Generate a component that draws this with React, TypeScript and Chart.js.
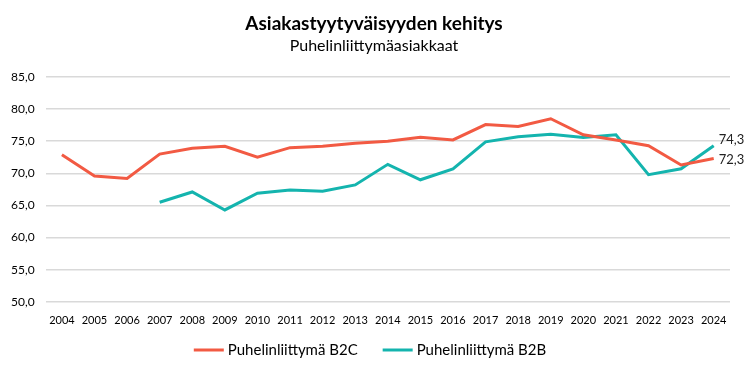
import React, { useEffect, useRef } from "react";
import { Chart, registerables } from "chart.js";

Chart.register(...registerables);

const years = ["2004","2005","2006","2007","2008","2009","2010","2011","2012","2013","2014","2015","2016","2017","2018","2019","2020","2021","2022","2023","2024"];
const b2c = [72.9, 69.6, 69.2, 73.0, 73.9, 74.2, 72.5, 74.0, 74.2, 74.7, 75.0, 75.6, 75.2, 77.6, 77.3, 78.5, 76.0, 75.2, 74.3, 71.3, 72.3];
const b2b = [null, null, null, 65.5, 67.1, 64.3, 66.9, 67.4, 67.2, 68.2, 71.4, 69.0, 70.7, 74.9, 75.7, 76.1, 75.6, 76.0, 69.8, 70.7, 74.3];
const titleText = "Asiakastyytyväisyyden kehitys";
const subtitleText = "Puhelinliittymäasiakkaat";
const labelB2C = "Puhelinliittymä B2C";
const labelB2B = "Puhelinliittymä B2B";

const RED = "#F25A43";
const TEAL = "#14B4AE";
const FONT = "Lato, 'Open Sans', sans-serif";

const fmt = (v: number) => v.toFixed(1).replace(".", ",");

const endLabels = {
  id: "endLabels",
  afterDatasetsDraw(chart: any) {
    const ctx = chart.ctx;
    ctx.save();
    ctx.font = `13px ${FONT}`;
    ctx.fillStyle = "#222";
    ctx.textBaseline = "middle";
    ctx.textAlign = "left";
    chart.data.datasets.forEach((ds: any, i: number) => {
      const meta = chart.getDatasetMeta(i);
      const last = meta.data[meta.data.length - 1];
      const v = ds.data[ds.data.length - 1];
      if (last && v != null) {
        const dy = i === 0 ? 1 : -6;
        ctx.fillText(fmt(v), last.x + 5, last.y + dy);
      }
    });
    ctx.restore();
  },
};

const titles = {
  id: "titles",
  afterDraw(chart: any) {
    const ctx = chart.ctx;
    ctx.save();
    ctx.fillStyle = "#000";
    ctx.textAlign = "center";
    ctx.textBaseline = "middle";
    const cx = chart.width / 2 + 1;
    ctx.font = `bold 19px ${FONT}`;
    ctx.fillText(titleText, cx, 24);
    ctx.font = `16px ${FONT}`;
    ctx.fillText(subtitleText, cx, 46);
    ctx.restore();
  },
};

const bottomLegend = {
  id: "bottomLegend",
  afterDraw(chart: any) {
    const ctx = chart.ctx;
    ctx.save();
    ctx.font = `15px ${FONT}`;
    ctx.textBaseline = "middle";
    ctx.textAlign = "left";
    const lineW = 30, gapT = 4, gapItem = 25;
    const items = chart.data.datasets.map((ds: any) => ({
      text: ds.label,
      color: ds.borderColor,
      w: lineW + gapT + ctx.measureText(ds.label).width,
    }));
    const total = items.reduce((s: number, it: any) => s + it.w, 0) + gapItem * (items.length - 1);
    let x = (chart.width - total) / 2 - 3;
    const y = 350;
    items.forEach((it: any) => {
      ctx.strokeStyle = it.color;
      ctx.lineWidth = 3;
      ctx.beginPath();
      ctx.moveTo(x, y);
      ctx.lineTo(x + lineW, y);
      ctx.stroke();
      ctx.fillStyle = "#000";
      ctx.fillText(it.text, x + lineW + gapT, y);
      x += it.w + gapItem;
    });
    ctx.restore();
  },
};

export default function App() {
  const ref = useRef<HTMLCanvasElement>(null);
  useEffect(() => {
    const chart = new Chart(ref.current!, {
      type: "line",
      data: {
        labels: years,
        datasets: [
          { label: labelB2C, data: b2c, borderColor: RED, backgroundColor: RED, borderWidth: 3, pointRadius: 0, tension: 0 },
          { label: labelB2B, data: b2b as any, borderColor: TEAL, backgroundColor: TEAL, borderWidth: 3, pointRadius: 0, tension: 0 },
        ],
      },
      options: {
        animation: false,
        responsive: false,
        maintainAspectRatio: false,
        layout: { padding: { left: 0, right: 16, top: 77, bottom: 35 } },
        plugins: {
          title: { display: false },
          subtitle: { display: false },
          legend: { display: false },
          tooltip: { enabled: false },
        },
        scales: {
          x: {
            offset: true,
            grid: { display: false, drawTicks: false },
            border: { display: false },
            ticks: { color: "#000", font: { family: FONT, size: 11 }, maxRotation: 0, autoSkip: false, padding: 12 },
          },
          y: {
            min: 50,
            max: 85,
            grid: { color: "#d9d9d9", lineWidth: 1.5, drawTicks: false },
            border: { display: false },
            ticks: { stepSize: 5, color: "#000", font: { family: FONT, size: 12 }, padding: 11, callback: (v: any) => fmt(Number(v)) },
          },
        },
      },
      plugins: [endLabels, titles, bottomLegend],
    });
    return () => chart.destroy();
  }, []);
  return (
    <div style={{ position: "fixed", left: 0, top: 0, width: 746, height: 374, background: "#fff" }}>
      <canvas ref={ref} width={746} height={374} style={{ width: 746, height: 374 }} />
    </div>
  );
}
